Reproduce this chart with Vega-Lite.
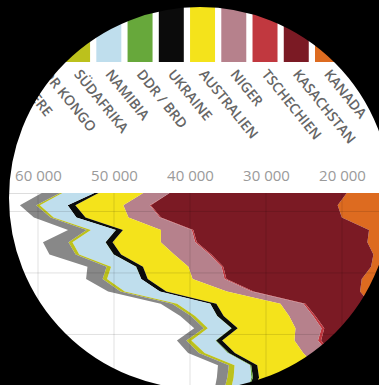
{
  "$schema": "https://vega.github.io/schema/vega-lite/v6.json",
  "width": 379,
  "height": 385,
  "autosize": {"type": "none"},
  "padding": 0,
  "background": "#ffffff",
  "config": {"view": {"stroke": null}},
  "datasets": {
    "laender": [
      {"land": "WEITERE", "ord": 1},
      {"land": "KANADA", "ord": 2},
      {"land": "KASACHSTAN", "ord": 3},
      {"land": "TSCHECHIEN", "ord": 4},
      {"land": "NIGER", "ord": 5},
      {"land": "AUSTRALIEN", "ord": 6},
      {"land": "UKRAINE", "ord": 7},
      {"land": "DDR / BRD", "ord": 8},
      {"land": "NAMIBIA", "ord": 9},
      {"land": "SÜDAFRIKA", "ord": 10},
      {"land": "DR KONGO", "ord": 11},
      {"land": "ANDERE", "ord": 12}
    ],
    "produktion": [
      {"jahr": 2017, "land": "WEITERE", "t": 6261}, {"jahr": 2017, "land": "KANADA", "t": 13116}, {"jahr": 2017, "land": "KASACHSTAN", "t": 23321}, {"jahr": 2017, "land": "TSCHECHIEN", "t": 0}, {"jahr": 2017, "land": "NIGER", "t": 3449}, {"jahr": 2017, "land": "AUSTRALIEN", "t": 5882}, {"jahr": 2017, "land": "UKRAINE", "t": 550}, {"jahr": 2017, "land": "DDR / BRD", "t": 0}, {"jahr": 2017, "land": "NAMIBIA", "t": 4224}, {"jahr": 2017, "land": "SÜDAFRIKA", "t": 308}, {"jahr": 2017, "land": "ANDERE", "t": 2391},
      {"jahr": 2016, "land": "WEITERE", "t": 6533}, {"jahr": 2016, "land": "KANADA", "t": 14039}, {"jahr": 2016, "land": "KASACHSTAN", "t": 24586}, {"jahr": 2016, "land": "TSCHECHIEN", "t": 138}, {"jahr": 2016, "land": "NIGER", "t": 3479}, {"jahr": 2016, "land": "AUSTRALIEN", "t": 6315}, {"jahr": 2016, "land": "UKRAINE", "t": 1005}, {"jahr": 2016, "land": "DDR / BRD", "t": 0}, {"jahr": 2016, "land": "NAMIBIA", "t": 3654}, {"jahr": 2016, "land": "SÜDAFRIKA", "t": 490}, {"jahr": 2016, "land": "ANDERE", "t": 2140},
      {"jahr": 2015, "land": "WEITERE", "t": 6696}, {"jahr": 2015, "land": "KANADA", "t": 13325}, {"jahr": 2015, "land": "KASACHSTAN", "t": 23800}, {"jahr": 2015, "land": "TSCHECHIEN", "t": 155}, {"jahr": 2015, "land": "NIGER", "t": 4116}, {"jahr": 2015, "land": "AUSTRALIEN", "t": 5654}, {"jahr": 2015, "land": "UKRAINE", "t": 1200}, {"jahr": 2015, "land": "DDR / BRD", "t": 0}, {"jahr": 2015, "land": "NAMIBIA", "t": 2993}, {"jahr": 2015, "land": "SÜDAFRIKA", "t": 393}, {"jahr": 2015, "land": "ANDERE", "t": 2201},
      {"jahr": 2014, "land": "WEITERE", "t": 7309}, {"jahr": 2014, "land": "KANADA", "t": 9134}, {"jahr": 2014, "land": "KASACHSTAN", "t": 23127}, {"jahr": 2014, "land": "TSCHECHIEN", "t": 193}, {"jahr": 2014, "land": "NIGER", "t": 4057}, {"jahr": 2014, "land": "AUSTRALIEN", "t": 5001}, {"jahr": 2014, "land": "UKRAINE", "t": 926}, {"jahr": 2014, "land": "DDR / BRD", "t": 33}, {"jahr": 2014, "land": "NAMIBIA", "t": 3255}, {"jahr": 2014, "land": "SÜDAFRIKA", "t": 573}, {"jahr": 2014, "land": "ANDERE", "t": 2434},
      {"jahr": 2013, "land": "WEITERE", "t": 7327}, {"jahr": 2013, "land": "KANADA", "t": 9331}, {"jahr": 2013, "land": "KASACHSTAN", "t": 22451}, {"jahr": 2013, "land": "TSCHECHIEN", "t": 215}, {"jahr": 2013, "land": "NIGER", "t": 4518}, {"jahr": 2013, "land": "AUSTRALIEN", "t": 6350}, {"jahr": 2013, "land": "UKRAINE", "t": 922}, {"jahr": 2013, "land": "DDR / BRD", "t": 27}, {"jahr": 2013, "land": "NAMIBIA", "t": 4323}, {"jahr": 2013, "land": "SÜDAFRIKA", "t": 531}, {"jahr": 2013, "land": "ANDERE", "t": 3351},
      {"jahr": 2012, "land": "WEITERE", "t": 6868}, {"jahr": 2012, "land": "KANADA", "t": 8999}, {"jahr": 2012, "land": "KASACHSTAN", "t": 21317}, {"jahr": 2012, "land": "TSCHECHIEN", "t": 228}, {"jahr": 2012, "land": "NIGER", "t": 4667}, {"jahr": 2012, "land": "AUSTRALIEN", "t": 6991}, {"jahr": 2012, "land": "UKRAINE", "t": 960}, {"jahr": 2012, "land": "DDR / BRD", "t": 50}, {"jahr": 2012, "land": "NAMIBIA", "t": 4495}, {"jahr": 2012, "land": "SÜDAFRIKA", "t": 465}, {"jahr": 2012, "land": "ANDERE", "t": 3450},
      {"jahr": 2011, "land": "WEITERE", "t": 7030}, {"jahr": 2011, "land": "KANADA", "t": 9145}, {"jahr": 2011, "land": "KASACHSTAN", "t": 19451}, {"jahr": 2011, "land": "TSCHECHIEN", "t": 229}, {"jahr": 2011, "land": "NIGER", "t": 4351}, {"jahr": 2011, "land": "AUSTRALIEN", "t": 5983}, {"jahr": 2011, "land": "UKRAINE", "t": 890}, {"jahr": 2011, "land": "DDR / BRD", "t": 51}, {"jahr": 2011, "land": "NAMIBIA", "t": 3258}, {"jahr": 2011, "land": "SÜDAFRIKA", "t": 582}, {"jahr": 2011, "land": "ANDERE", "t": 2524},
      {"jahr": 2010, "land": "WEITERE", "t": 7622}, {"jahr": 2010, "land": "KANADA", "t": 9783}, {"jahr": 2010, "land": "KASACHSTAN", "t": 17803}, {"jahr": 2010, "land": "TSCHECHIEN", "t": 254}, {"jahr": 2010, "land": "NIGER", "t": 4198}, {"jahr": 2010, "land": "AUSTRALIEN", "t": 5900}, {"jahr": 2010, "land": "UKRAINE", "t": 850}, {"jahr": 2010, "land": "DDR / BRD", "t": 8}, {"jahr": 2010, "land": "NAMIBIA", "t": 4496}, {"jahr": 2010, "land": "SÜDAFRIKA", "t": 583}, {"jahr": 2010, "land": "ANDERE", "t": 2174},
      {"jahr": 2009, "land": "WEITERE", "t": 7446}, {"jahr": 2009, "land": "KANADA", "t": 10173}, {"jahr": 2009, "land": "KASACHSTAN", "t": 14020}, {"jahr": 2009, "land": "TSCHECHIEN", "t": 258}, {"jahr": 2009, "land": "NIGER", "t": 3243}, {"jahr": 2009, "land": "AUSTRALIEN", "t": 7982}, {"jahr": 2009, "land": "UKRAINE", "t": 840}, {"jahr": 2009, "land": "DDR / BRD", "t": 0}, {"jahr": 2009, "land": "NAMIBIA", "t": 4626}, {"jahr": 2009, "land": "SÜDAFRIKA", "t": 563}, {"jahr": 2009, "land": "ANDERE", "t": 1622},
      {"jahr": 2008, "land": "WEITERE", "t": 7289}, {"jahr": 2008, "land": "KANADA", "t": 9000}, {"jahr": 2008, "land": "KASACHSTAN", "t": 8521}, {"jahr": 2008, "land": "TSCHECHIEN", "t": 263}, {"jahr": 2008, "land": "NIGER", "t": 3032}, {"jahr": 2008, "land": "AUSTRALIEN", "t": 8430}, {"jahr": 2008, "land": "UKRAINE", "t": 800}, {"jahr": 2008, "land": "DDR / BRD", "t": 0}, {"jahr": 2008, "land": "NAMIBIA", "t": 4366}, {"jahr": 2008, "land": "SÜDAFRIKA", "t": 655}, {"jahr": 2008, "land": "ANDERE", "t": 1497},
      {"jahr": 2007, "land": "WEITERE", "t": 7387}, {"jahr": 2007, "land": "KANADA", "t": 9476}, {"jahr": 2007, "land": "KASACHSTAN", "t": 6637}, {"jahr": 2007, "land": "TSCHECHIEN", "t": 306}, {"jahr": 2007, "land": "NIGER", "t": 3153}, {"jahr": 2007, "land": "AUSTRALIEN", "t": 8611}, {"jahr": 2007, "land": "UKRAINE", "t": 846}, {"jahr": 2007, "land": "DDR / BRD", "t": 41}, {"jahr": 2007, "land": "NAMIBIA", "t": 2879}, {"jahr": 2007, "land": "SÜDAFRIKA", "t": 539}, {"jahr": 2007, "land": "ANDERE", "t": 1407},
      {"jahr": 2006, "land": "WEITERE", "t": 7194}, {"jahr": 2006, "land": "KANADA", "t": 9862}, {"jahr": 2006, "land": "KASACHSTAN", "t": 5279}, {"jahr": 2006, "land": "TSCHECHIEN", "t": 359}, {"jahr": 2006, "land": "NIGER", "t": 3434}, {"jahr": 2006, "land": "AUSTRALIEN", "t": 7593}, {"jahr": 2006, "land": "UKRAINE", "t": 800}, {"jahr": 2006, "land": "DDR / BRD", "t": 65}, {"jahr": 2006, "land": "NAMIBIA", "t": 3067}, {"jahr": 2006, "land": "SÜDAFRIKA", "t": 534}, {"jahr": 2006, "land": "ANDERE", "t": 1257},
      {"jahr": 2005, "land": "WEITERE", "t": 6770}, {"jahr": 2005, "land": "KANADA", "t": 11628}, {"jahr": 2005, "land": "KASACHSTAN", "t": 4357}, {"jahr": 2005, "land": "TSCHECHIEN", "t": 408}, {"jahr": 2005, "land": "NIGER", "t": 3093}, {"jahr": 2005, "land": "AUSTRALIEN", "t": 9516}, {"jahr": 2005, "land": "UKRAINE", "t": 800}, {"jahr": 2005, "land": "DDR / BRD", "t": 94}, {"jahr": 2005, "land": "NAMIBIA", "t": 3147}, {"jahr": 2005, "land": "SÜDAFRIKA", "t": 674}, {"jahr": 2005, "land": "ANDERE", "t": 1232},
      {"jahr": 2004, "land": "WEITERE", "t": 6094}, {"jahr": 2004, "land": "KANADA", "t": 11597}, {"jahr": 2004, "land": "KASACHSTAN", "t": 3719}, {"jahr": 2004, "land": "TSCHECHIEN", "t": 412}, {"jahr": 2004, "land": "NIGER", "t": 3282}, {"jahr": 2004, "land": "AUSTRALIEN", "t": 8982}, {"jahr": 2004, "land": "UKRAINE", "t": 800}, {"jahr": 2004, "land": "DDR / BRD", "t": 150}, {"jahr": 2004, "land": "NAMIBIA", "t": 3038}, {"jahr": 2004, "land": "SÜDAFRIKA", "t": 755}, {"jahr": 2004, "land": "ANDERE", "t": 1422},
      {"jahr": 2003, "land": "WEITERE", "t": 6229}, {"jahr": 2003, "land": "KANADA", "t": 10457}, {"jahr": 2003, "land": "KASACHSTAN", "t": 3300}, {"jahr": 2003, "land": "TSCHECHIEN", "t": 452}, {"jahr": 2003, "land": "NIGER", "t": 3143}, {"jahr": 2003, "land": "AUSTRALIEN", "t": 7572}, {"jahr": 2003, "land": "UKRAINE", "t": 800}, {"jahr": 2003, "land": "DDR / BRD", "t": 150}, {"jahr": 2003, "land": "NAMIBIA", "t": 2036}, {"jahr": 2003, "land": "SÜDAFRIKA", "t": 758}, {"jahr": 2003, "land": "ANDERE", "t": 1425},
      {"jahr": 2002, "land": "WEITERE", "t": 6119}, {"jahr": 2002, "land": "KANADA", "t": 11604}, {"jahr": 2002, "land": "KASACHSTAN", "t": 2800}, {"jahr": 2002, "land": "TSCHECHIEN", "t": 465}, {"jahr": 2002, "land": "NIGER", "t": 3075}, {"jahr": 2002, "land": "AUSTRALIEN", "t": 6854}, {"jahr": 2002, "land": "UKRAINE", "t": 800}, {"jahr": 2002, "land": "DDR / BRD", "t": 212}, {"jahr": 2002, "land": "NAMIBIA", "t": 2333}, {"jahr": 2002, "land": "SÜDAFRIKA", "t": 824}, {"jahr": 2002, "land": "ANDERE", "t": 1378},
      {"jahr": 2001, "land": "WEITERE", "t": 5911}, {"jahr": 2001, "land": "KANADA", "t": 12520}, {"jahr": 2001, "land": "KASACHSTAN", "t": 2050}, {"jahr": 2001, "land": "TSCHECHIEN", "t": 456}, {"jahr": 2001, "land": "NIGER", "t": 2920}, {"jahr": 2001, "land": "AUSTRALIEN", "t": 7756}, {"jahr": 2001, "land": "UKRAINE", "t": 750}, {"jahr": 2001, "land": "DDR / BRD", "t": 27}, {"jahr": 2001, "land": "NAMIBIA", "t": 2239}, {"jahr": 2001, "land": "SÜDAFRIKA", "t": 873}, {"jahr": 2001, "land": "ANDERE", "t": 1269}
    ],
    "gitter_t": [{"t": 60000}, {"t": 50000}, {"t": 40000}, {"t": 30000}, {"t": 20000}],
    "gitter_jahr": [{"jahr": 2015.5}, {"jahr": 2010.5}, {"jahr": 2005.5}]
  },
  "resolve": {"scale": {"x": "independent"}},
  "layer": [
    {
      "data": {"name": "laender"},
      "transform": [{"filter": "datum.ord > 1"}],
      "mark": {"type": "bar"},
      "encoding": {
        "x": {
          "field": "land",
          "type": "nominal",
          "sort": null,
          "scale": {
            "type": "band",
            "domain": ["ANDERE", "DR KONGO", "SÜDAFRIKA", "NAMIBIA", "DDR / BRD", "UKRAINE", "AUSTRALIEN", "NIGER", "TSCHECHIEN", "KASACHSTAN", "KANADA"],
            "range": [2.6, 340],
            "paddingInner": 0.2,
            "paddingOuter": 0
          },
          "axis": null
        },
        "y": {"datum": 2036, "type": "quantitative", "scale": {"domain": [2001.39, 2032.69], "nice": false, "zero": false}, "axis": null},
        "y2": {"datum": 2027.65},
        "color": {
          "field": "land",
          "type": "nominal",
          "scale": {
            "domain": ["WEITERE", "KANADA", "KASACHSTAN", "TSCHECHIEN", "NIGER", "AUSTRALIEN", "UKRAINE", "DDR / BRD", "NAMIBIA", "SÜDAFRIKA", "DR KONGO", "ANDERE"],
            "range": ["#6d7f99", "#dd6b20", "#7b1a24", "#c1383f", "#b6818c", "#f4e31b", "#0b0b0b", "#67a83b", "#bfdeed", "#bcc11c", "#8f6f4e", "#888888"]
          },
          "legend": null
        }
      }
    },
    {
      "data": {"name": "laender"},
      "transform": [{"filter": "datum.ord > 1"}],
      "mark": {"type": "text", "angle": 51, "align": "left", "baseline": "middle", "font": "Open Sans", "fontSize": 14, "fontWeight": 600, "fill": "#666666", "xOffset": -1},
      "encoding": {
        "x": {
          "field": "land",
          "type": "nominal",
          "sort": null,
          "scale": {
            "type": "band",
            "domain": ["ANDERE", "DR KONGO", "SÜDAFRIKA", "NAMIBIA", "DDR / BRD", "UKRAINE", "AUSTRALIEN", "NIGER", "TSCHECHIEN", "KASACHSTAN", "KANADA"],
            "range": [2.6, 340],
            "paddingInner": 0.2,
            "paddingOuter": 0
          },
          "axis": null
        },
        "y": {"datum": 2026.84, "type": "quantitative", "scale": {"domain": [2001.39, 2032.69], "nice": false, "zero": false}, "axis": null},
        "text": {"field": "land"}
      }
    },
    {
      "data": {"name": "produktion"},
      "transform": [{"lookup": "land", "from": {"data": {"name": "laender"}, "key": "land", "fields": ["ord"]}}],
      "mark": {"type": "area", "orient": "horizontal"},
      "encoding": {
        "y": {"field": "jahr", "type": "quantitative", "scale": {"domain": [2001.39, 2032.69], "nice": false, "zero": false}, "axis": null},
        "x": {
          "field": "t",
          "type": "quantitative",
          "stack": "zero",
          "scale": {"domain": [15132, 65000], "reverse": true, "nice": false, "zero": false},
          "axis": {
            "orient": "top",
            "offset": -193,
            "values": [20000, 30000, 40000, 50000, 60000],
            "grid": false,
            "ticks": false,
            "domain": true,
            "domainColor": "#dddddd",
            "domainWidth": 1,
            "labelExpr": "replace(format(datum.value, ',d'), ',', ' ')",
            "labelFont": "Open Sans",
            "labelFontSize": 15,
            "labelColor": "#9a9a9a",
            "labelPadding": 10,
            "labelFlush": false,
            "labelOverlap": false,
            "title": null
          }
        },
        "color": {"field": "land", "type": "nominal", "legend": null},
        "order": {"field": "ord", "type": "quantitative"}
      }
    },
    {
      "data": {"name": "gitter_t"},
      "mark": {"type": "rule", "stroke": "#000000", "strokeWidth": 1, "opacity": 0.12},
      "encoding": {
        "x": {"field": "t", "type": "quantitative", "scale": {"domain": [15132, 65000], "reverse": true, "nice": false, "zero": false}, "axis": null},
        "y": {"datum": 2017, "type": "quantitative", "scale": {"domain": [2001.39, 2032.69], "nice": false, "zero": false}, "axis": null},
        "y2": {"datum": 2001.39}
      }
    },
    {
      "data": {"name": "gitter_jahr"},
      "mark": {"type": "rule", "stroke": "#000000", "strokeWidth": 1, "opacity": 0.12},
      "encoding": {
        "y": {"field": "jahr", "type": "quantitative", "scale": {"domain": [2001.39, 2032.69], "nice": false, "zero": false}, "axis": null}
      }
    },
    {
      "data": {"values": [{}]},
      "mark": {"type": "point", "shape": "circle", "filled": false, "stroke": "#000000", "strokeWidth": 300, "size": 465124, "opacity": 1, "strokeOpacity": 1},
      "encoding": {
        "x": {"datum": 38684, "type": "quantitative", "scale": {"domain": [15132, 65000], "reverse": true, "nice": false, "zero": false}, "axis": null},
        "y": {"datum": 2016.59, "type": "quantitative", "scale": {"domain": [2001.39, 2032.69], "nice": false, "zero": false}, "axis": null}
      }
    }
  ]
}
